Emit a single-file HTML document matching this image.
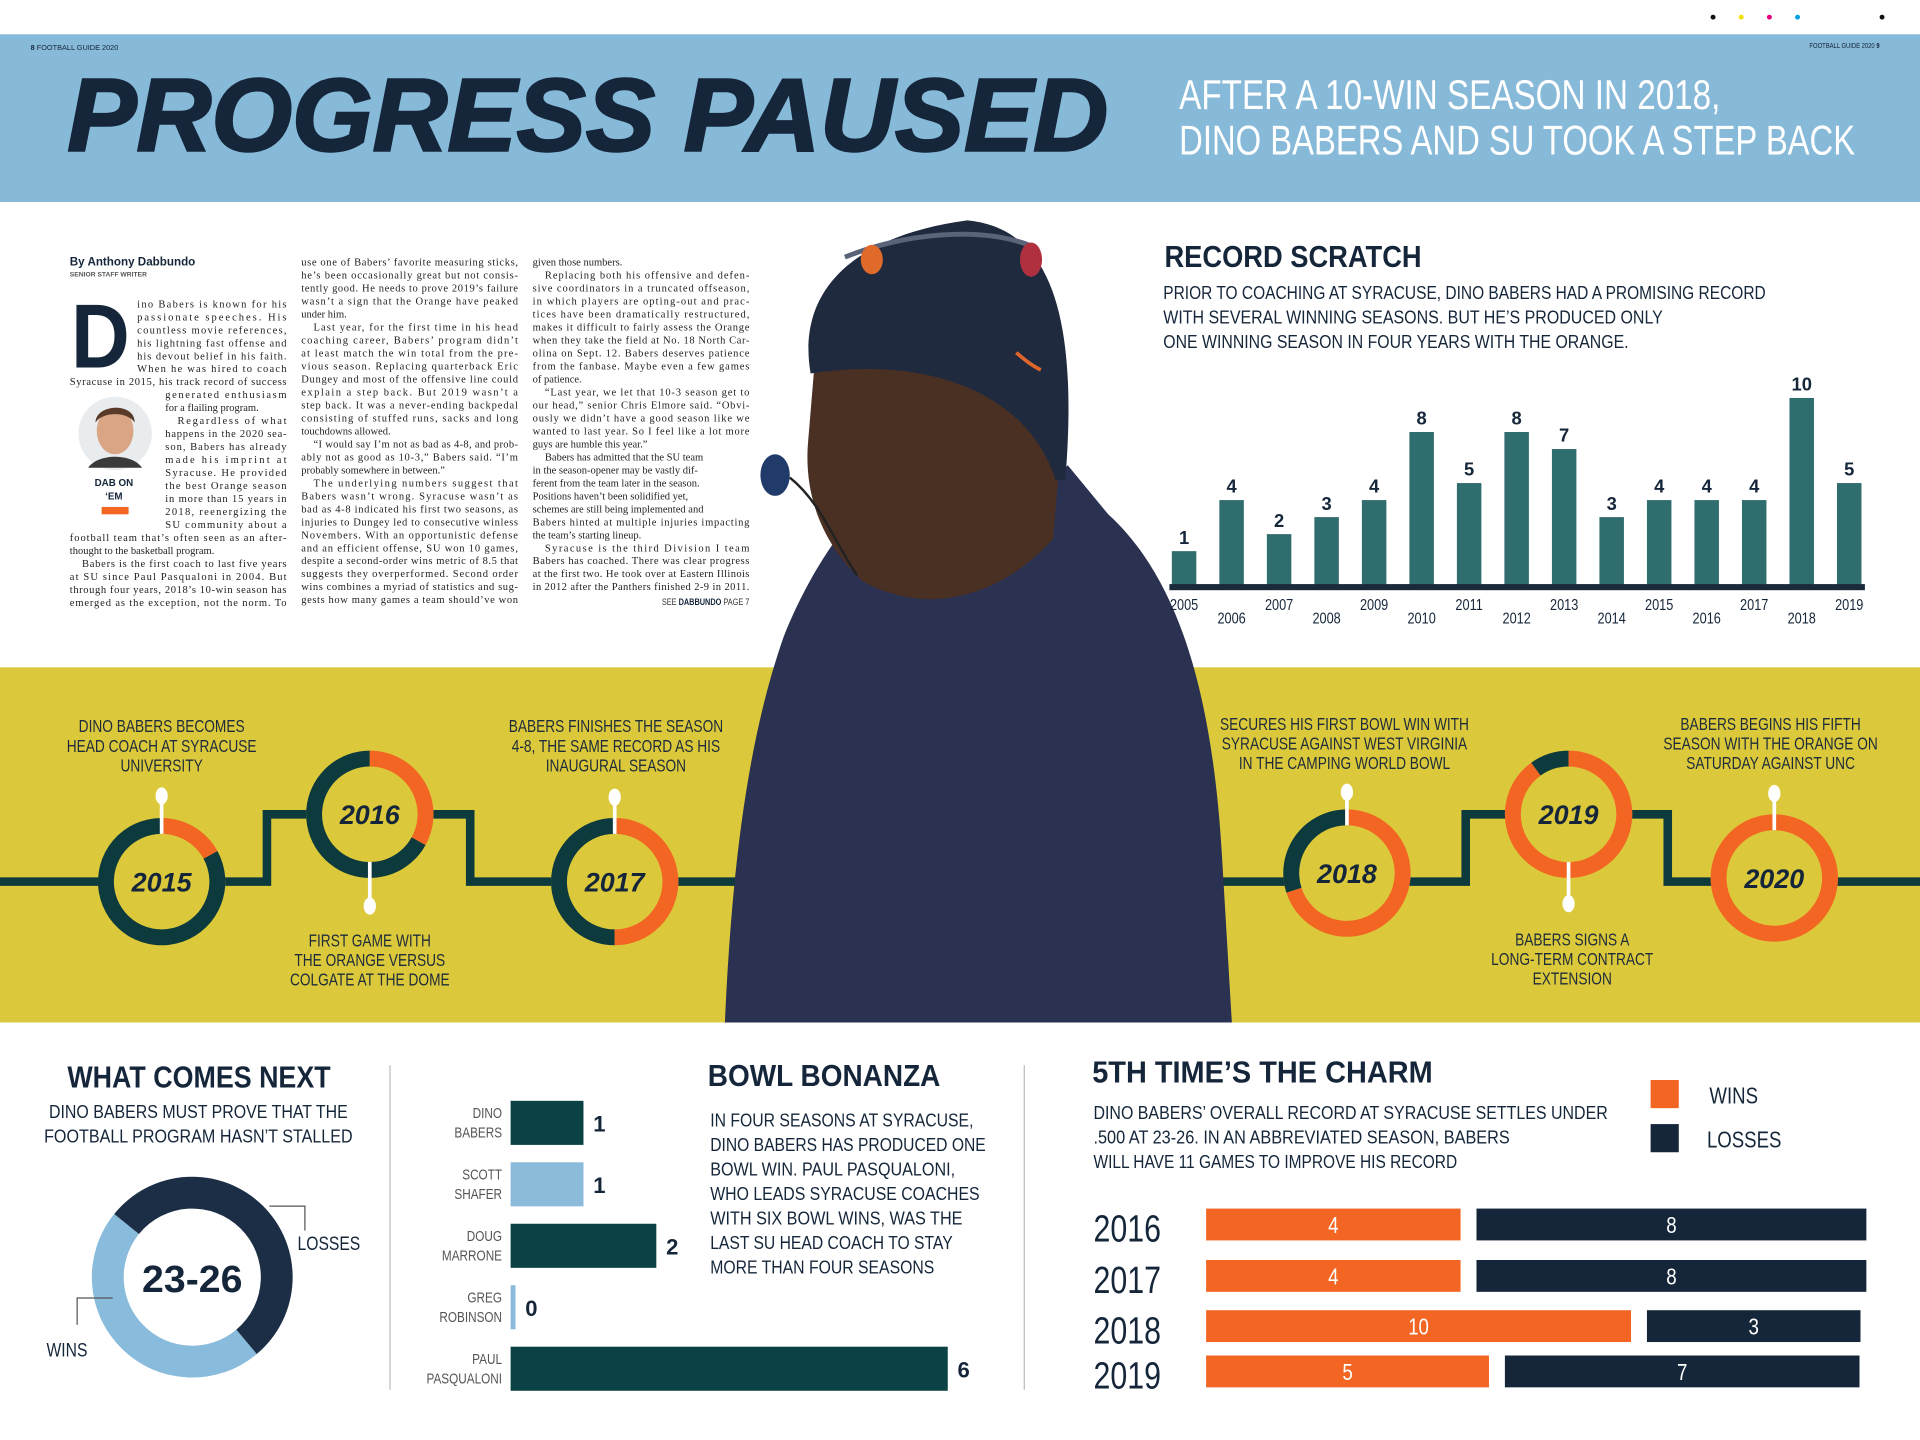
<!DOCTYPE html>
<html><head><meta charset="utf-8">
<style>
html,body{margin:0;padding:0;background:#fff;}
body{width:1920px;height:1440px;overflow:hidden;position:relative;}
#stage{position:absolute;left:0;top:0;width:1568px;height:1176px;transform-origin:0 0;transform:scale(1.22449);}
svg{position:absolute;left:0;top:0;}
.nar{font-family:"Liberation Sans Narrow","Liberation Sans",sans-serif;}
.bold{font-family:"Liberation Sans",sans-serif;font-weight:bold;}
.ser{font-family:"Liberation Serif",serif;font-size:8.6px;fill:#222;}
</style></head>
<body>
<div id="stage">
<svg id="svg" width="1568" height="1176" viewBox="0 0 1568 1176">
  <g>
    <circle cx="1399" cy="14" r="2" fill="#111"/><circle cx="1422" cy="14" r="2" fill="#f2e100"/>
    <circle cx="1445" cy="14" r="2" fill="#e6007e"/><circle cx="1468" cy="14" r="2" fill="#00a0e0"/>
    <circle cx="1537" cy="14" r="2" fill="#111"/>
  </g>
  <rect x="0" y="28" width="1568" height="137" fill="#87b9d9"/>
  <text x="25" y="41" class="bold" font-size="6" fill="#15263a">8 <tspan font-weight="normal">FOOTBALL GUIDE 2020</tspan></text>
  <text x="1535" y="39" class="nar" font-size="6" fill="#15263a" text-anchor="end">FOOTBALL GUIDE 2020 <tspan font-weight="bold">9</tspan></text>
  <text x="55" y="123" class="bold" font-size="84" font-style="italic" fill="#15263a" textLength="850" lengthAdjust="spacingAndGlyphs" style="font-weight:900" stroke="#15263a" stroke-width="2">PROGRESS PAUSED</text>
  <text x="963" y="89" class="nar" font-size="34" fill="#fff" textLength="442" lengthAdjust="spacingAndGlyphs">AFTER A 10-WIN SEASON IN 2018,</text>
  <text x="963" y="126" class="nar" font-size="34" fill="#fff" textLength="552" lengthAdjust="spacingAndGlyphs">DINO BABERS AND SU TOOK A STEP BACK</text>

  <rect x="0" y="545" width="1568" height="290" fill="#dcc93b"/>
  <g id="timeline"></g>

  <g>
    <path d="M700,420 C760,440 840,410 872,380 L905,420 C960,470 990,560 998,700 L1006,835 L592,835 C598,700 612,600 640,520 C660,470 685,435 700,420 Z" fill="#2b3150"/>
    <path d="M665,300 C760,288 842,320 864,392 L860,440 C820,485 760,505 705,475 C672,445 656,405 660,360 Z" fill="#4a3023"/>
    <path d="M662,305 C650,235 700,192 790,180 C852,186 882,245 870,392 L862,392 C840,322 760,290 662,305 Z" fill="#1f2a3f"/>
    <path d="M690,210 C740,190 800,185 840,200" stroke="#5a6378" stroke-width="4" fill="none"/>
    <ellipse cx="712" cy="212" rx="9" ry="12" fill="#e06a2a"/>
    <ellipse cx="842" cy="212" rx="9" ry="14" fill="#b03040"/>
    <ellipse cx="633" cy="388" rx="12" ry="17" fill="#203a6a"/>
    <path d="M645,390 C670,410 680,440 700,470" stroke="#222" stroke-width="2" fill="none"/>
    <path d="M830,288 C838,295 845,300 850,302" stroke="#e0652a" stroke-width="3" fill="none"/>
  </g>

  <text x="951" y="218" class="bold" font-size="25" fill="#15263a" textLength="210" lengthAdjust="spacingAndGlyphs">RECORD SCRATCH</text>
  <g class="nar" font-size="15" fill="#15263a">
    <text x="950" y="244" textLength="492" lengthAdjust="spacingAndGlyphs">PRIOR TO COACHING AT SYRACUSE, DINO BABERS HAD A PROMISING RECORD</text>
    <text x="950" y="264" textLength="408" lengthAdjust="spacingAndGlyphs">WITH SEVERAL WINNING SEASONS. BUT HE’S PRODUCED ONLY</text>
    <text x="950" y="284" textLength="380" lengthAdjust="spacingAndGlyphs">ONE WINNING SEASON IN FOUR YEARS WITH THE ORANGE.</text>
  </g>
  <g id="recordChart"></g>

  <text x="55" y="888" class="bold" font-size="25" fill="#15263a" textLength="215" lengthAdjust="spacingAndGlyphs">WHAT COMES NEXT</text>
  <g class="nar" font-size="15" fill="#15263a" text-anchor="middle">
    <text x="162" y="913" textLength="244" lengthAdjust="spacingAndGlyphs">DINO BABERS MUST PROVE THAT THE</text>
    <text x="162" y="933" textLength="252" lengthAdjust="spacingAndGlyphs">FOOTBALL PROGRAM HASN’T STALLED</text>
  </g>
  <g id="donut"></g>
  <text x="157" y="1055" class="bold" font-size="31" fill="#15263a" text-anchor="middle" textLength="82" lengthAdjust="spacingAndGlyphs">23-26</text>
  <path d="M220,985 H249 V1005" stroke="#555" stroke-width="1" fill="none"/>
  <text x="243" y="1021" class="nar" font-size="16" fill="#15263a">LOSSES</text>
  <path d="M92,1060 H63 V1082" stroke="#555" stroke-width="1" fill="none"/>
  <text x="38" y="1108" class="nar" font-size="16" fill="#15263a">WINS</text>

  <line x1="318.5" y1="870" x2="318.5" y2="1135" stroke="#bbb"/>
  <line x1="836.5" y1="870" x2="836.5" y2="1135" stroke="#bbb"/>

  <g id="bowlChart"></g>
  <text x="578" y="887" class="bold" font-size="25" fill="#15263a" textLength="190" lengthAdjust="spacingAndGlyphs">BOWL BONANZA</text>
  <g class="nar" font-size="15" fill="#15263a">
    <text x="580" y="920" textLength="215" lengthAdjust="spacingAndGlyphs">IN FOUR SEASONS AT SYRACUSE,</text>
    <text x="580" y="940" textLength="225" lengthAdjust="spacingAndGlyphs">DINO BABERS HAS PRODUCED ONE</text>
    <text x="580" y="960" textLength="200" lengthAdjust="spacingAndGlyphs">BOWL WIN. PAUL PASQUALONI,</text>
    <text x="580" y="980" textLength="220" lengthAdjust="spacingAndGlyphs">WHO LEADS SYRACUSE COACHES</text>
    <text x="580" y="1000" textLength="206" lengthAdjust="spacingAndGlyphs">WITH SIX BOWL WINS, WAS THE</text>
    <text x="580" y="1020" textLength="198" lengthAdjust="spacingAndGlyphs">LAST SU HEAD COACH TO STAY</text>
    <text x="580" y="1040" textLength="183" lengthAdjust="spacingAndGlyphs">MORE THAN FOUR SEASONS</text>
  </g>

  <text x="892" y="884" class="bold" font-size="25" fill="#15263a" textLength="278" lengthAdjust="spacingAndGlyphs">5TH TIME’S THE CHARM</text>
  <g class="nar" font-size="15" fill="#15263a">
    <text x="893" y="914" textLength="420" lengthAdjust="spacingAndGlyphs">DINO BABERS’ OVERALL RECORD AT SYRACUSE SETTLES UNDER</text>
    <text x="893" y="934" textLength="340" lengthAdjust="spacingAndGlyphs">.500 AT 23-26. IN AN ABBREVIATED SEASON, BABERS</text>
    <text x="893" y="954" textLength="297" lengthAdjust="spacingAndGlyphs">WILL HAVE 11 GAMES TO IMPROVE HIS RECORD</text>
  </g>
  <rect x="1348" y="882" width="23" height="23" fill="#f26522"/>
  <text x="1396" y="901" class="nar" font-size="19" fill="#15263a">WINS</text>
  <rect x="1348" y="918" width="23" height="23" fill="#15263a"/>
  <text x="1394" y="937" class="nar" font-size="19" fill="#15263a">LOSSES</text>
  <g id="stackChart"></g>

  <text x="57" y="217" class="bold" font-size="9.5" fill="#15263a">By Anthony Dabbundo</text>
  <text x="57" y="226" class="bold" font-size="5.5" fill="#555" font-weight="normal">SENIOR STAFF WRITER</text>
  <text x="58" y="300" font-family="Liberation Sans,sans-serif" font-weight="bold" font-size="74" fill="#15263a" textLength="48" lengthAdjust="spacingAndGlyphs">D</text>
  <g>
    <circle cx="94" cy="354" r="30" fill="#e8ecef"/>
    <ellipse cx="94" cy="352" rx="15" ry="19" fill="#d9a585"/>
    <path d="M78,345 C78,330 110,328 110,345 C104,336 84,336 78,345 Z" fill="#5a3a28"/>
    <path d="M72,382 C80,370 108,370 116,382 Z" fill="#3a3a3a"/>
  </g>
  <text x="93" y="397" class="bold" font-size="8" fill="#15263a" text-anchor="middle">DAB ON</text>
  <text x="93" y="408" class="bold" font-size="8" fill="#15263a" text-anchor="middle">‘EM</text>
  <rect x="83" y="414" width="22" height="6" fill="#f26522"/>
  <g id="article"></g>
  <text x="612" y="494" class="nar" font-size="7.5" fill="#333" text-anchor="end">SEE <tspan font-weight="bold" fill="#15263a">DABBUNDO</tspan> PAGE 7</text>
</svg>
</div>
<script>
const NS='http://www.w3.org/2000/svg';
function el(tag,attrs,parent){const e=document.createElementNS(NS,tag);for(const k in attrs)e.setAttribute(k,attrs[k]);parent.appendChild(e);return e;}

/* ---------- Record scratch chart ---------- */
const recYears=[2005,2006,2007,2008,2009,2010,2011,2012,2013,2014,2015,2016,2017,2018,2019];
const recWins=[1,4,2,3,4,8,5,8,7,3,4,4,4,10,5];
(function(){
  const g=document.getElementById('recordChart');
  const x=i=>957+i*38.8, bw=20, base=478;
  const h=v=>14+13.9*v;
  recWins.forEach((v,i)=>{
    const r=el('rect',{x:x(i),y:base-h(v),width:bw,height:h(v),fill:'#2f6d6e'},g);
    
    
    const t=el('text',{x:x(i)+bw/2,y:base-h(v)-6,'text-anchor':'middle','font-size':15,fill:'#15263a',class:'bold'},g);
    t.textContent=v;
    
    
    const yl=el('text',{x:x(i)+bw/2,y:(i%2===0?498:509),'text-anchor':'middle','font-size':13,fill:'#15263a',class:'nar'},g);
    yl.textContent=recYears[i];
    
    
  });
  const ax=el('rect',{x:955,y:477,width:568,height:5,fill:'#1b2a38'},g);
  
  
})();

function arcPath(cx,cy,r0,r1,a0,a1){
  const p=(r,a)=>{const t=(a-90)*Math.PI/180;return [cx+r*Math.cos(t),cy+r*Math.sin(t)];};
  if(a1-a0>=359.99){a1=a0+359.99;}
  const L=(a1-a0)>180?1:0;
  const [x1,y1]=p(r1,a0),[x2,y2]=p(r1,a1),[x3,y3]=p(r0,a1),[x4,y4]=p(r0,a0);
  return `M${x1},${y1} A${r1},${r1} 0 ${L} 1 ${x2},${y2} L${x3},${y3} A${r0},${r0} 0 ${L} 0 ${x4},${y4} Z`;
}

/* ---------- Timeline ---------- */
const tlYears=['2015','2016','2017','2018','2019','2020'];
const tlOrange=[0.17,0.33,0.5,0.7,0.9,1.0];
(function(){
  const g=document.getElementById('timeline');
  const cx=[132,302,502,1100,1281,1449], cy=[720,665,720,713,665,717];
  const line1=el('path',{d:'M0,720 H218 V665 H384 V720 H612',stroke:'#0d3a3d','stroke-width':7,fill:'none'},g);
  
  
  const line2=el('path',{d:'M990,720 H1197 V665 H1362 V720 H1568',stroke:'#0d3a3d','stroke-width':7,fill:'none'},g);
  
  
  const pins=[650,740,651,647,738,648];
  tlYears.forEach((yr,i)=>{
    const bg=el('circle',{cx:cx[i],cy:cy[i],r:52,fill:'#dcc93b'},g);
    
    
    const tealA=el('path',{d:arcPath(cx[i],cy[i],39,52,360*tlOrange[i],360),fill:'#0d3a3d'},g);
    
    
    const orA=el('path',{d:arcPath(cx[i],cy[i],39,52,0,360*tlOrange[i]),fill:'#f26522'},g);
    
    
    const dy=pins[i];
    const st=el('line',{x1:cx[i],y1:dy,x2:cx[i],y2:cy[i]+(dy>cy[i]?39:-39),stroke:'#fff','stroke-width':3},g);
    
    
    const dot=el('ellipse',{cx:cx[i],cy:dy,rx:5,ry:7,fill:'#fff'},g);
    
    
    const t=el('text',{x:cx[i],y:cy[i]+8,'text-anchor':'middle','font-size':22,'font-style':'italic',fill:'#15263a',class:'bold',style:'font-weight:900'},g);
    t.textContent=yr;
    
    
  });
  const labels=[
    [132,598,['DINO BABERS BECOMES','HEAD COACH AT SYRACUSE','UNIVERSITY']],
    [302,773,['FIRST GAME WITH','THE ORANGE VERSUS','COLGATE AT THE DOME']],
    [503,598,['BABERS FINISHES THE SEASON','4-8, THE SAME RECORD AS HIS','INAUGURAL SEASON']],
    [1098,596,['SECURES HIS FIRST BOWL WIN WITH','SYRACUSE AGAINST WEST VIRGINIA','IN THE CAMPING WORLD BOWL']],
    [1284,772,['BABERS SIGNS A','LONG-TERM CONTRACT','EXTENSION']],
    [1446,596,['BABERS BEGINS HIS FIFTH','SEASON WITH THE ORANGE ON','SATURDAY AGAINST UNC']]
  ];
  labels.forEach(([x,y,lines])=>{
    lines.forEach((s,j)=>{
      const t=el('text',{x:x,y:y+j*16,'text-anchor':'middle','font-size':14,fill:'#1d2b3a',class:'nar'},g);
      t.textContent=s;
      
      
    });
  });
})();

/* ---------- Donut (overall record) ---------- */
const donutLabels=['WINS','LOSSES'];
const donutValues=[23,26];
(function(){
  const g=document.getElementById('donut');
  const tot=donutValues[0]+donutValues[1];
  const start=140, winDeg=360*donutValues[0]/tot;
  const w=el('path',{d:arcPath(157,1043,56,82,start,start+winDeg),fill:'#88bbdc'},g);
  
  
  const l=el('path',{d:arcPath(157,1043,56,82,start+winDeg,start+360),fill:'#1c2e45'},g);
  
  
})();

/* ---------- Bowl wins ---------- */
const coachFirst=['DINO','SCOTT','DOUG','GREG','PAUL'];
const coachLast=['BABERS','SHAFER','MARRONE','ROBINSON','PASQUALONI'];
const bowlWins=[1,1,2,0,6];
(function(){
  const g=document.getElementById('bowlChart');
  const cols=['#0b4245','#8bbadb','#0b4245','#8bbadb','#0b4245'];
  const x0=417, unit=59.5, yc=i=>917+i*50.2;
  bowlWins.forEach((v,i)=>{
    const w=Math.max(v*unit,4);
    const r=el('rect',{x:x0,y:yc(i)-18,width:w,height:36,fill:cols[i]},g);
    
    
    const t=el('text',{x:x0+w+8,y:yc(i)+7,'font-size':18,fill:'#15263a',class:'bold'},g);
    t.textContent=v;
    
    
    const a=el('text',{x:410,y:yc(i)-4,'text-anchor':'end','font-size':12,fill:'#555',class:'nar'},g);
    a.textContent=coachFirst[i];
    
    
    const b=el('text',{x:410,y:yc(i)+12,'text-anchor':'end','font-size':12,fill:'#555',class:'nar'},g);
    b.textContent=coachLast[i];
    
    
  });
})();

/* ---------- Season records stacked ---------- */
const seasons=['2016','2017','2018','2019'];
const seasonWins=[4,4,10,5];
const seasonLosses=[8,8,3,7];
(function(){
  const g=document.getElementById('stackChart');
  const x0=985, gap=13;
  const winW=v=>115+23.2*v, lossW=v=>88+28.8*v;
  const yc=[1000,1042,1083,1120], bh=26;
  seasons.forEach((s,i)=>{
    const ww=winW(seasonWins[i]), lw=lossW(seasonLosses[i]);
    const yl=el('text',{x:893,y:yc[i]+14,'font-size':31,fill:'#15263a',class:'nar'},g);
    yl.textContent=s;
    
    
    const r1=el('rect',{x:x0,y:yc[i]-bh/2,width:ww,height:bh,fill:'#f26522'},g);
    
    
    const r2=el('rect',{x:x0+ww+gap,y:yc[i]-bh/2,width:lw,height:bh,fill:'#15263a'},g);
    
    
    const t1=el('text',{x:x0+ww/2,y:yc[i]+7,'text-anchor':'middle','font-size':19,fill:'#fff',class:'nar'},g);
    t1.textContent=seasonWins[i];
    
    
    const t2=el('text',{x:x0+ww+gap+lw/2,y:yc[i]+7,'text-anchor':'middle','font-size':19,fill:'#fff',class:'nar'},g);
    t2.textContent=seasonLosses[i];
    
    
  });
})();

/* ---------- Article text ---------- */
const col1=[[112,'ino Babers is known for his',1],[112,'passionate speeches. His',1],[112,'countless movie references,',1],[112,'his lightning fast offense and',1],[112,'his devout belief in his faith.',1],[112,'When he was hired to coach',1],[57,'Syracuse in 2015, his track record of success',1],[135,'generated enthusiasm',1],[135,'for a flailing program.',0],[145,'Regardless of what',1],[135,'happens in the 2020 sea-',1],[135,'son, Babers has already',1],[135,'made his imprint at',1],[135,'Syracuse. He provided',1],[135,'the best Orange season',1],[135,'in more than 15 years in',1],[135,'2018, reenergizing the',1],[135,'SU community about a',1],[57,'football team that’s often seen as an after-',1],[57,'thought to the basketball program.',0],[67,'Babers is the first coach to last five years',1],[57,'at SU since Paul Pasqualoni in 2004. But',1],[57,'through four years, 2018’s 10-win season has',1],[57,'emerged as the exception, not the norm. To',1]];
const col2=[[0,'use one of Babers’ favorite measuring sticks,',1],[0,'he’s been occasionally great but not consis-',1],[0,'tently good. He needs to prove 2019’s failure',1],[0,'wasn’t a sign that the Orange have peaked',1],[0,'under him.',0],[10,'Last year, for the first time in his head',1],[0,'coaching career, Babers’ program didn’t',1],[0,'at least match the win total from the pre-',1],[0,'vious season. Replacing quarterback Eric',1],[0,'Dungey and most of the offensive line could',1],[0,'explain a step back. But 2019 wasn’t a',1],[0,'step back. It was a never-ending backpedal',1],[0,'consisting of stuffed runs, sacks and long',1],[0,'touchdowns allowed.',0],[10,'“I would say I’m not as bad as 4-8, and prob-',1],[0,'ably not as good as 10-3,” Babers said. “I’m',1],[0,'probably somewhere in between.”',0],[10,'The underlying numbers suggest that',1],[0,'Babers wasn’t wrong. Syracuse wasn’t as',1],[0,'bad as 4-8 indicated his first two seasons, as',1],[0,'injuries to Dungey led to consecutive winless',1],[0,'Novembers. With an opportunistic defense',1],[0,'and an efficient offense, SU won 10 games,',1],[0,'despite a second-order wins metric of 8.5 that',1],[0,'suggests they overperformed. Second order',1],[0,'wins combines a myriad of statistics and sug-',1],[0,'gests how many games a team should’ve won',1]];
const col3=[[0,'given those numbers.',0],[10,'Replacing both his offensive and defen-',1],[0,'sive coordinators in a truncated offseason,',1],[0,'in which players are opting-out and prac-',1],[0,'tices have been dramatically restructured,',1],[0,'makes it difficult to fairly assess the Orange',1],[0,'when they take the field at No. 18 North Car-',1],[0,'olina on Sept. 12. Babers deserves patience',1],[0,'from the fanbase. Maybe even a few games',1],[0,'of patience.',0],[10,'“Last year, we let that 10-3 season get to',1],[0,'our head,” senior Chris Elmore said. “Obvi-',1],[0,'ously we didn’t have a good season like we',1],[0,'wanted to last year. So I feel like a lot more',1],[0,'guys are humble this year.”',0],[10,'Babers has admitted that the SU team',0],[0,'in the season-opener may be vastly dif-',0],[0,'ferent from the team later in the season.',0],[0,'Positions haven’t been solidified yet,',0],[0,'schemes are still being implemented and',0],[0,'Babers hinted at multiple injuries impacting',1],[0,'the team’s starting lineup.',0],[10,'Syracuse is the third Division I team',1],[0,'Babers has coached. There was clear progress',1],[0,'at the first two. He took over at Eastern Illinois',1],[0,'in 2012 after the Panthers finished 2-9 in 2011.',1]];
(function(){
  const g=document.getElementById('article');
  function put(lines,xL,xR,y0,abs){
    lines.forEach((ln,i)=>{
      const x=abs?ln[0]:xL+ln[0];
      const a={x:x,y:y0+i*10.6,class:'ser'};
      if(ln[2]){a.textLength=xR-x;a.lengthAdjust='spacing';}
      const t=el('text',a,g);
      t.textContent=ln[1];
      
      
    });
  }
  put(col1,57,234,251,true);
  put(col2,246,423,217,false);
  put(col3,435,612,217,false);
})();

document.querySelectorAll('text.nar, .nar text').forEach(t=>{
  if(t.hasAttribute('textLength'))return;
  const L=t.getComputedTextLength();
  if(L>0){t.setAttribute('textLength',(L*0.8).toFixed(1));t.setAttribute('lengthAdjust','spacingAndGlyphs');}
});
</script>
</body></html>
